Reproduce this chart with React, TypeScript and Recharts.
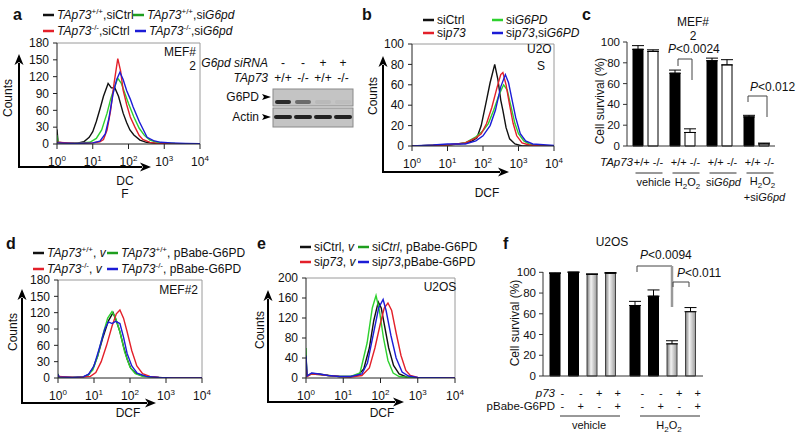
import React from 'react';
import { LineChart, Line, XAxis, YAxis, ReferenceLine, BarChart, Bar, ErrorBar } from 'recharts';

const FONT = '"Liberation Sans", Arial, Helvetica, sans-serif';
const BLACK = '#111111';
const RED = '#e3202a';
const GREEN = '#2ed12e';
const BLUE = '#1c1cd6';

// flow histograms: [log10(DCF), counts]
// panel a (MEF#2)
const aWtCtrl = [[0, 26], [0.03, 3], [0.3, 1], [0.6, 2], [0.75, 4], [0.9, 12], [1.0, 22], [1.1, 40], [1.2, 62], [1.3, 85], [1.43, 108], [1.52, 100], [1.62, 100], [1.72, 85], [1.85, 55], [1.95, 38], [2.04, 25], [2.15, 16], [2.32, 7], [2.5, 3], [2.8, 1], [3.2, 0], [4, 0]];
const aKoCtrl = [[0, 3], [0.5, 1], [1.0, 2], [1.2, 4], [1.3, 8], [1.4, 25], [1.5, 60], [1.6, 110], [1.7, 152], [1.78, 130], [1.85, 96], [1.95, 70], [2.05, 48], [2.18, 30], [2.3, 15], [2.4, 8], [2.6, 3], [2.8, 1], [3.2, 0], [4, 0]];
const aWtSi = [[0, 16], [0.03, 2], [0.5, 1], [0.92, 3], [1.1, 10], [1.25, 25], [1.4, 55], [1.5, 80], [1.6, 100], [1.7, 117], [1.8, 108], [1.9, 90], [2.0, 72], [2.15, 48], [2.3, 28], [2.45, 15], [2.6, 7], [2.8, 3], [3.0, 2], [3.3, 1], [4, 0]];
const aKoSi = [[0, 2], [0.5, 1], [1.0, 2], [1.2, 5], [1.35, 18], [1.45, 45], [1.57, 90], [1.67, 115], [1.76, 128], [1.85, 115], [1.95, 95], [2.05, 80], [2.13, 66], [2.3, 40], [2.52, 12], [2.7, 6], [2.9, 3], [3.2, 2], [3.6, 1], [4, 0.5]];

// panel b (U2OS)
const bCtrl = [[0, 0], [0.5, 0.5], [1.0, 1], [1.3, 2], [1.5, 3], [1.7, 5], [1.83, 8], [1.95, 20], [2.1, 45], [2.2, 62], [2.33, 80], [2.42, 65], [2.5, 45], [2.56, 35], [2.65, 18], [2.75, 7], [2.9, 2], [3.1, 0], [4, 0]];
const bP73 = [[0, 0], [0.5, 0.5], [1.0, 1], [1.5, 3], [1.8, 8], [1.95, 12], [2.1, 22], [2.25, 38], [2.4, 58], [2.5, 70], [2.56, 72], [2.65, 60], [2.75, 40], [2.85, 22], [2.95, 10], [3.1, 3], [3.3, 1], [3.6, 0], [4, 0]];
const bG6pd = [[0, 0], [1.0, 1], [1.5, 3], [1.8, 9], [2.0, 15], [2.15, 22], [2.3, 35], [2.45, 50], [2.58, 60], [2.68, 55], [2.78, 40], [2.9, 22], [3.0, 12], [3.15, 5], [3.3, 2], [3.6, 0], [4, 0]];
const bBoth = [[0, 0], [0.6, 1], [1.0, 2], [1.5, 2], [1.8, 5], [2.0, 10], [2.2, 20], [2.35, 35], [2.5, 58], [2.63, 70], [2.72, 62], [2.82, 45], [2.92, 28], [3.05, 12], [3.2, 5], [3.4, 2], [3.8, 1], [4, 0.5]];

// panel d (MEF#2, pBabe-G6PD)
const dWtV = [[0, 6], [0.03, 1], [0.4, 1], [0.7, 2], [0.85, 6], [0.97, 18], [1.1, 40], [1.25, 75], [1.4, 105], [1.53, 120], [1.62, 105], [1.72, 85], [1.82, 58], [1.92, 35], [2.02, 18], [2.15, 9], [2.35, 4], [2.6, 2], [3.0, 0], [4, 0]];
const dWtG = [[0, 8], [0.03, 1], [0.5, 1], [0.8, 3], [0.97, 15], [1.1, 40], [1.25, 80], [1.38, 110], [1.5, 122], [1.6, 110], [1.72, 85], [1.85, 48], [2.0, 20], [2.15, 8], [2.35, 3], [2.7, 1], [3.2, 0], [4, 0]];
const dKoV = [[0, 3], [0.5, 1], [0.9, 3], [1.05, 10], [1.2, 30], [1.35, 60], [1.5, 95], [1.62, 118], [1.72, 125], [1.82, 110], [1.92, 85], [2.05, 50], [2.19, 22], [2.35, 8], [2.55, 3], [2.8, 1], [3.2, 0], [4, 0]];
const dKoG = [[0, 7], [0.03, 2], [0.4, 1], [0.7, 2], [0.85, 7], [1.0, 22], [1.15, 55], [1.3, 90], [1.4, 103], [1.5, 100], [1.6, 104], [1.72, 100], [1.82, 75], [1.92, 45], [2.05, 22], [2.2, 9], [2.45, 3], [2.8, 1], [3.2, 0], [4, 0]];

// panel e (U2OS, pBabe-G6PD)
const eCtrlV = [[0, 40], [0.03, 4], [0.15, 9], [0.35, 8], [0.6, 5], [0.9, 3], [1.2, 3], [1.4, 6], [1.55, 18], [1.7, 60], [1.82, 115], [1.94, 152], [2.02, 140], [2.12, 100], [2.22, 60], [2.35, 25], [2.5, 8], [2.7, 2], [3.0, 0], [4, 0]];
const eCtrlG = [[0, 60], [0.02, 5], [0.15, 8], [0.35, 7], [0.6, 5], [0.9, 3], [1.2, 3], [1.45, 10], [1.64, 70], [1.78, 140], [1.88, 165], [1.97, 135], [2.08, 80], [2.2, 35], [2.34, 10], [2.5, 3], [2.8, 1], [3.2, 0], [4, 0]];
const eP73V = [[0, 25], [0.03, 3], [0.15, 8], [0.35, 7], [0.6, 5], [0.9, 3], [1.2, 2], [1.5, 5], [1.7, 20], [1.85, 60], [2.0, 110], [2.1, 140], [2.2, 150], [2.3, 135], [2.42, 90], [2.55, 45], [2.68, 15], [2.8, 5], [3.0, 1], [4, 0]];
const eP73G = [[0, 45], [0.03, 4], [0.15, 10], [0.35, 8], [0.6, 5], [0.9, 3], [1.2, 3], [1.5, 8], [1.65, 30], [1.8, 85], [1.95, 140], [2.07, 157], [2.15, 135], [2.28, 85], [2.42, 40], [2.58, 12], [2.75, 4], [3.0, 1], [4, 0]];

const decades = [0, 1, 2, 3, 4];
const ticks180 = [0, 30, 60, 90, 120, 150, 180];
const ticks100 = [0, 20, 40, 60, 80, 100];
const ticks200 = [0, 40, 80, 120, 160, 200];

// panel c: cell survival (%), MEF#2
const cGroups = ['vehicle', 'H2O2', 'siG6pd', 'H2O2+siG6pd'];
const cWt = [93, 70, 82, 28];
const cWtErr = [3.5, 3, 2.5, 1.5];
const cKo = [91, 13, 78, 2];
const cKoErr = [1.5, 3.5, 5, 0.8];

// panel f: cell survival (%), U2OS
const fGroups = ['vehicle', 'H2O2'];
const fCtrlV = [99, 68];
const fCtrlVErr = [0.5, 4];
const fCtrlG = [100, 77];
const fCtrlGErr = [0.3, 6];
const fP73V = [98, 31];
const fP73VErr = [0.5, 3];
const fP73G = [99, 62];
const fP73GErr = [0.8, 4];
const fP73Signs = ['-', '-', '+', '+'];
const fPbabeSigns = ['-', '+', '-', '+'];

const toPts = (arr: number[][]) => arr.map(([x, y]) => ({ x, y }));

const cData = cGroups.map((g, i) => ({ g, wt: cWt[i], wtE: [0, cWtErr[i]], ko: cKo[i], koE: [0, cKoErr[i]] }));
const fData = fGroups.map((g, i) => ({
  g,
  s1: fCtrlV[i], e1: [0, fCtrlVErr[i]],
  s2: fCtrlG[i], e2: [0, fCtrlGErr[i]],
  s3: fP73V[i], e3: [0, fP73VErr[i]],
  s4: fP73G[i], e4: [0, fP73GErr[i]],
}));

const LogTick = (props: any) => {
  const { x, y, payload } = props;
  return (
    <text x={x} y={y + 15} textAnchor="middle" fontSize={12} fontFamily={FONT} fill="#111">
      10<tspan dy={-5} fontSize={8}>{payload.value}</tspan>
    </text>
  );
};

type Series = { data: number[][]; color: string };

function Hist({ left, top, right, bottom, yMax, yTicks, series }: { left: number; top: number; right: number; bottom: number; yMax: number; yTicks: number[]; series: Series[] }) {
  const YW = 40;
  const MT = 8;
  const MR = 14;
  const XH = 30;
  return (
    <div style={{ position: 'absolute', left: left - YW, top: top - MT }}>
      <LineChart width={right - left + YW + MR} height={bottom - top + MT + XH} margin={{ top: MT, right: MR, bottom: 0, left: 0 }}>
        <XAxis type="number" dataKey="x" domain={[0, 4]} ticks={decades} interval={0} tick={(p: any) => <LogTick {...p} />} tickSize={5} tickMargin={2} stroke="#222" height={XH} allowDataOverflow />
        <YAxis type="number" domain={[0, yMax]} ticks={yTicks} interval={0} width={YW} tickSize={4} tickMargin={4} tick={{ fontSize: 12, fill: '#111', fontFamily: FONT }} stroke="#222" allowDataOverflow />
        <ReferenceLine y={yMax} stroke="#9a9a9a" />
        <ReferenceLine x={4} stroke="#9a9a9a" />
        {series.map((s, i) => (
          <Line key={i} data={toPts(s.data)} dataKey="y" type="linear" stroke={s.color} strokeWidth={1.4} dot={false} isAnimationActive={false} />
        ))}
      </LineChart>
    </div>
  );
}

// superscript followed by the rest of the label
const Sup = ({ t, children }: { t: string; children: React.ReactNode }) => (
  <>
    <tspan dy={-5} fontSize={8}>{t}</tspan>
    <tspan dy={5}>{children}</tspan>
  </>
);

const H2O2 = () => (
  <>
    H<tspan dy={3} fontSize={8}>2</tspan><tspan dy={-3}>O</tspan><tspan dy={3} fontSize={8}>2</tspan>
  </>
);

const CTick = (props: any) => {
  const { x, y, payload } = props;
  const i = cGroups.indexOf(payload.value);
  return (
    <g fontFamily={FONT} fontSize={11} fill="#111">
      <text x={x + 3} y={y + 20} textAnchor="middle">+/+ -/-</text>
      <line x1={x - 10} x2={x + 17} y1={y + 27} y2={y + 27} stroke="#333" />
      {i === 0 && <text x={x + 8} y={y + 40} textAnchor="middle">vehicle</text>}
      {i === 1 && <text x={x + 5} y={y + 40} textAnchor="middle"><H2O2 /></text>}
      {i === 2 && <text x={x + 4} y={y + 40} textAnchor="middle">si<tspan fontStyle="italic">G6pd</tspan></text>}
      {i === 3 && (
        <>
          <text x={x + 6} y={y + 39} textAnchor="middle"><H2O2 /></text>
          <text x={x + 8} y={y + 55} textAnchor="middle">+si<tspan fontStyle="italic">G6pd</tspan></text>
        </>
      )}
    </g>
  );
};

const F_BAR = 10;
const F_GAP = 8.5;

const FTick = (props: any) => {
  const { x, y, payload } = props;
  const step = F_BAR + F_GAP;
  return (
    <g fontFamily={FONT} fontSize={11} fill="#111">
      {fP73Signs.map((s, k) => (
        <text key={'a' + k} x={x + (k - 1.5) * step + 7} y={y + 21} textAnchor="middle">{s}</text>
      ))}
      {fPbabeSigns.map((s, k) => (
        <text key={'b' + k} x={x + (k - 1.5) * step + 7} y={y + 34} textAnchor="middle">{s}</text>
      ))}
      <line x1={x - 23} x2={x + 37} y1={y + 40} y2={y + 40} stroke="#333" />
      <text x={x + 6} y={y + 53} textAnchor="middle">{payload.value === 'H2O2' ? <H2O2 /> : payload.value}</text>
    </g>
  );
};

const Arrow = ({ x1, y1, x2, y2 }: { x1: number; y1: number; x2: number; y2: number }) => {
  const dx = x2 - x1;
  const dy = y2 - y1;
  const len = Math.hypot(dx, dy);
  const ux = dx / len;
  const uy = dy / len;
  const bx = x2 - ux * 11;
  const by = y2 - uy * 11;
  return (
    <g>
      <line x1={x1} y1={y1} x2={bx + ux * 2} y2={by + uy * 2} stroke="#000" strokeWidth={2} />
      <polygon points={`${x2},${y2} ${bx - uy * 4.5},${by + ux * 4.5} ${bx + ux * 3},${by + uy * 3} ${bx + uy * 4.5},${by - ux * 4.5}`} fill="#000" />
    </g>
  );
};

const LegItem = ({ x, y, color, children }: { x: number; y: number; color: string; children: React.ReactNode }) => (
  <g>
    <line x1={x} x2={x + 11} y1={y} y2={y} stroke={color} strokeWidth={2.5} />
    <text x={x + 14} y={y + 4} fontSize={12} fontFamily={FONT} fill="#111">{children}</text>
  </g>
);

const It = ({ children }: { children: React.ReactNode }) => <tspan fontStyle="italic">{children}</tspan>;

const lanes = [283, 303, 323, 343];
const siRnaRow = ['-', '-', '+', '+'];
const tap73Row = ['+/+', '-/-', '+/+', '-/-'];
const g6pdBand = [0.85, 0.5, 0.06, 0.04];

function Overlay() {
  const t = { fontFamily: FONT, fill: '#111' } as const;
  return (
    <svg width={800} height={438} style={{ position: 'absolute', left: 0, top: 0, pointerEvents: 'none' }}>
      {/* panel letters */}
      <g {...t} fontSize={16} fontWeight="bold">
        <text x={13} y={20}>a</text>
        <text x={362} y={20}>b</text>
        <text x={582} y={20}>c</text>
        <text x={6} y={249}>d</text>
        <text x={257} y={249}>e</text>
        <text x={503} y={249}>f</text>
      </g>

      {/* panel a */}
      <LegItem x={43} y={15} color={BLACK}><It>TAp73</It><Sup t="+/+">,siCtrl</Sup></LegItem>
      <LegItem x={133} y={15} color="#1e9e1e"><It>TAp73</It><Sup t="+/+">,si<It>G6pd</It></Sup></LegItem>
      <LegItem x={43} y={31} color={RED}><It>TAp73</It><Sup t="-/-">,siCtrl</Sup></LegItem>
      <LegItem x={135} y={31} color={BLUE}><It>TAp73</It><Sup t="-/-">,si<It>G6pd</It></Sup></LegItem>
      <g {...t} fontSize={12} textAnchor="end">
        <text x={196} y={56}>MEF#</text>
        <text x={196} y={70}>2</text>
      </g>
      <Arrow x1={19} y1={167} x2={19} y2={54} />
      <Arrow x1={18} y1={167} x2={151} y2={167} />
      <g {...t} fontSize={12} textAnchor="middle">
        <text x={125} y={185}>DC</text>
        <text x={125} y={198}>F</text>
        <text transform="translate(12,98) rotate(-90)">Counts</text>
      </g>

      {/* western blot */}
      <g {...t} fontSize={12}>
        <text x={268} y={67} textAnchor="end" fontStyle="italic">G6pd siRNA</text>
        <text x={268} y={82} textAnchor="end" fontStyle="italic">TAp73</text>
        {lanes.map((lx, k) => (
          <text key={'s' + k} x={lx} y={67} textAnchor="middle">{siRnaRow[k]}</text>
        ))}
        {lanes.map((lx, k) => (
          <text key={'t' + k} x={lx} y={82} textAnchor="middle">{tap73Row[k]}</text>
        ))}
        <text x={259} y={101} textAnchor="end">G6PD</text>
        <text x={259} y={121} textAnchor="end">Actin</text>
      </g>
      <polygon points="262,94 271,97 262,100 264,97" fill="#000" />
      <polygon points="262,114 271,117 262,120 264,117" fill="#000" />
      <rect x={273} y={89} width={80} height={17} fill="#c4c4c4" stroke="#8a8a8a" />
      <rect x={273} y={108} width={80} height={19} fill="#c4c4c4" stroke="#8a8a8a" />
      {lanes.map((lx, k) => (
        <rect key={'g' + k} x={lx - 8} y={100} width={16} height={4} rx={2} fill="#111" opacity={g6pdBand[k]} />
      ))}
      {lanes.map((lx, k) => (
        <rect key={'a' + k} x={lx - 9} y={115} width={18} height={4} rx={2} fill="#111" opacity={0.9} />
      ))}

      {/* panel b */}
      <LegItem x={423} y={20} color={BLACK}>siCtrl</LegItem>
      <LegItem x={492} y={20} color={GREEN}>si<It>G6PD</It></LegItem>
      <LegItem x={423} y={33} color={RED}>si<It>p73</It></LegItem>
      <LegItem x={492} y={33} color={BLUE}>si<It>p73</It>,si<It>G6PD</It></LegItem>
      <g {...t} fontSize={12}>
        <text x={527} y={53}>U2O</text>
        <text x={537} y={70}>S</text>
      </g>
      <Arrow x1={383} y1={172} x2={383} y2={56} />
      <Arrow x1={382} y1={172} x2={509} y2={172} />
      <g {...t} fontSize={12} textAnchor="middle">
        <text x={487} y={197}>DCF</text>
        <text transform="translate(377,96) rotate(-90)">Counts</text>
      </g>

      {/* panel c */}
      <g {...t} fontSize={12} textAnchor="middle">
        <text x={693} y={26}>MEF#</text>
        <text x={693} y={40}>2</text>
        <text transform="translate(604,101) rotate(-90)">Cell survival (%)</text>
      </g>
      <g {...t} fontSize={12}>
        <text x={668} y={53}><It>P</It>&lt;0.0024</text>
        <text x={750} y={91}><It>P</It>&lt;0.012</text>
        <text x={633} y={166} textAnchor="end" fontSize={11.5}><It>TAp73</It></text>
      </g>
      <path d="M678,66 L678,59 L692,59 L692,80" fill="none" stroke="#444" />
      <path d="M748,102 L748,96 L767,96 L767,117" fill="none" stroke="#444" />

      {/* panel d */}
      <LegItem x={33} y={253} color={BLACK}><It>TAp73</It><Sup t="+/+">, <It>v</It></Sup></LegItem>
      <LegItem x={107} y={253} color="#1e9e1e"><It>TAp73</It><Sup t="+/+">, pBabe-G6PD</Sup></LegItem>
      <LegItem x={33} y={269} color={RED}><It>TAp73</It><Sup t="-/-">,  <It>v</It></Sup></LegItem>
      <LegItem x={107} y={269} color={BLUE}><It>TAp73</It><Sup t="-/-">, pBabe-G6PD</Sup></LegItem>
      <text {...t} x={198} y={294} fontSize={12} textAnchor="end">MEF#2</text>
      <Arrow x1={22} y1={403} x2={22} y2={289} />
      <Arrow x1={21} y1={403} x2={156} y2={403} />
      <g {...t} fontSize={12} textAnchor="middle">
        <text x={128} y={417}>DCF</text>
        <text transform="translate(17,332) rotate(-90)">Counts</text>
      </g>

      {/* panel e */}
      <LegItem x={300} y={247} color={BLACK}>siCtrl, <It>v</It></LegItem>
      <LegItem x={358} y={247} color="#1e9e1e">si<It>Ctrl</It>, pBabe-G6PD</LegItem>
      <LegItem x={300} y={262} color={RED}>si<It>p73</It>, <It>v</It></LegItem>
      <LegItem x={358} y={262} color={BLUE}>si<It>p73</It>,pBabe-G6PD</LegItem>
      <text {...t} x={440} y={291} fontSize={12} textAnchor="middle">U2OS</text>
      <Arrow x1={268} y1={402} x2={268} y2={290} />
      <Arrow x1={267} y1={402} x2={404} y2={402} />
      <g {...t} fontSize={12} textAnchor="middle">
        <text x={382} y={417}>DCF</text>
        <text transform="translate(264,330) rotate(-90)">Counts</text>
      </g>

      {/* panel f */}
      <g {...t} fontSize={12}>
        <text x={612} y={246} textAnchor="middle">U2OS</text>
        <text x={640} y={259}><It>P</It>&lt;0.0094</text>
        <text x={677} y={277}><It>P</It>&lt;0.011</text>
        <text transform="translate(519,323) rotate(-90)" textAnchor="middle">Cell survival (%)</text>
        <text x={555} y={397} textAnchor="end" fontSize={11.5}><It>p73</It></text>
        <text x={555} y={410} textAnchor="end" fontSize={11.5}>pBabe-G6PD</text>
      </g>
      <path d="M637,272 L637,266 L672,266 L672,292" fill="none" stroke="#444" />
      <line x1={672} y1={266} x2={672} y2={307} stroke="#999" strokeWidth={2.5} />
      <path d="M673,287 L673,282 L689,282 L689,287" fill="none" stroke="#444" />
    </svg>
  );
}

export default function App() {
  return (
    <div style={{ position: 'absolute', left: 0, top: 0, width: 800, height: 438, background: '#fff', overflow: 'hidden' }}>
      <Hist left={57} top={43} right={200} bottom={144} yMax={180} yTicks={ticks180}
        series={[{ data: aWtCtrl, color: BLACK }, { data: aWtSi, color: GREEN }, { data: aKoCtrl, color: RED }, { data: aKoSi, color: BLUE }]} />
      <Hist left={412} top={44} right={554} bottom={146} yMax={100} yTicks={ticks100}
        series={[{ data: bCtrl, color: BLACK }, { data: bG6pd, color: GREEN }, { data: bP73, color: RED }, { data: bBoth, color: BLUE }]} />
      <Hist left={58} top={280} right={202} bottom={378} yMax={180} yTicks={ticks180}
        series={[{ data: dWtV, color: BLACK }, { data: dWtG, color: GREEN }, { data: dKoV, color: RED }, { data: dKoG, color: BLUE }]} />
      <Hist left={306} top={278} right={455} bottom={378} yMax={200} yTicks={ticks200}
        series={[{ data: eCtrlV, color: BLACK }, { data: eCtrlG, color: GREEN }, { data: eP73V, color: RED }, { data: eP73G, color: BLUE }]} />

      <div style={{ position: 'absolute', left: 592, top: 36 }}>
        <BarChart width={208} height={172} data={cData} margin={{ top: 6, right: 25, bottom: 0, left: 0 }} barSize={10} barGap={5}>
          <XAxis dataKey="g" tickLine={false} tickSize={0} tickMargin={0} tick={(p: any) => <CTick {...p} />} stroke="#333" height={62} interval={0} />
          <YAxis domain={[0, 100]} ticks={ticks100} interval={0} width={35} tickSize={4} tickMargin={3} tick={{ fontSize: 11.5, fill: '#111', fontFamily: FONT }} stroke="#333" />
          <Bar dataKey="wt" fill="#000" stroke="#000" isAnimationActive={false}>
            <ErrorBar dataKey="wtE" width={6} stroke="#000" strokeWidth={1} direction="y" />
          </Bar>
          <Bar dataKey="ko" fill="#fff" stroke="#000" isAnimationActive={false}>
            <ErrorBar dataKey="koE" width={6} stroke="#000" strokeWidth={1} direction="y" />
          </Bar>
        </BarChart>
      </div>

      <div style={{ position: 'absolute', left: 508, top: 266 }}>
        <BarChart width={200} height={168} data={fData} margin={{ top: 6, right: 5, bottom: 0, left: 0 }} barSize={F_BAR} barGap={F_GAP}>
          <defs>
            <linearGradient id="fGray" x1="0" y1="0" x2="1" y2="0">
              <stop offset="0%" stopColor="#7a7a7a" />
              <stop offset="40%" stopColor="#f2f2f2" />
              <stop offset="100%" stopColor="#9a9a9a" />
            </linearGradient>
          </defs>
          <XAxis dataKey="g" tickLine={false} tickSize={0} tickMargin={0} tick={(p: any) => <FTick {...p} />} stroke="#333" height={58} interval={0} />
          <YAxis domain={[0, 100]} ticks={ticks100} interval={0} width={35} tickSize={4} tickMargin={3} tick={{ fontSize: 11.5, fill: '#111', fontFamily: FONT }} stroke="#333" />
          <Bar dataKey="s1" fill="#000" stroke="#000" isAnimationActive={false}>
            <ErrorBar dataKey="e1" width={6} stroke="#000" strokeWidth={1} direction="y" />
          </Bar>
          <Bar dataKey="s2" fill="#000" stroke="#000" isAnimationActive={false}>
            <ErrorBar dataKey="e2" width={6} stroke="#000" strokeWidth={1} direction="y" />
          </Bar>
          <Bar dataKey="s3" fill="url(#fGray)" stroke="#444" isAnimationActive={false}>
            <ErrorBar dataKey="e3" width={6} stroke="#000" strokeWidth={1} direction="y" />
          </Bar>
          <Bar dataKey="s4" fill="url(#fGray)" stroke="#444" isAnimationActive={false}>
            <ErrorBar dataKey="e4" width={6} stroke="#000" strokeWidth={1} direction="y" />
          </Bar>
        </BarChart>
      </div>

      <Overlay />
    </div>
  );
}
